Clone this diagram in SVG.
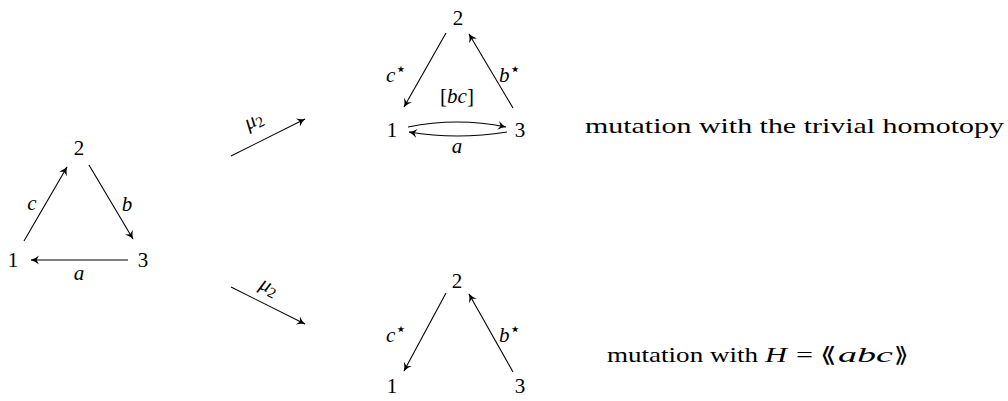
<svg xmlns="http://www.w3.org/2000/svg" width="1008" height="401" viewBox="0 0 1008 401">
<style>
text{font-family:"Liberation Serif","DejaVu Serif",serif;font-size:21px;fill:#000}
.n{text-anchor:middle}
.i{font-style:italic}
.e{fill:none;stroke:#000;stroke-width:1.1}
.sm{font-size:15px}
.st{font-family:"DejaVu Sans",sans-serif;font-size:18px;font-style:normal}
</style>
<defs>
<marker id="ah" viewBox="-9 -5 10 10" refX="0" refY="0" markerWidth="10" markerHeight="10" markerUnits="userSpaceOnUse" orient="auto">
<path d="M0.5,0 Q-4,-1 -8,-4.5 L-5.5,0 L-8,4.5 Q-4,1 0.5,0 Z" fill="#000"/>
</marker>
</defs>
<rect width="1008" height="401" fill="#fff"/>
<g id="connectors">
<line class="e" x1="24" y1="241" x2="67" y2="167" marker-end="url(#ah)"/>
<line class="e" x1="89" y1="165" x2="133" y2="239" marker-end="url(#ah)"/>
<line class="e" x1="128" y1="260" x2="31" y2="260" marker-end="url(#ah)"/>
<line class="e" x1="231" y1="156" x2="305" y2="119" marker-end="url(#ah)"/>
<line class="e" x1="231" y1="287" x2="305" y2="324" marker-end="url(#ah)"/>
<line class="e" x1="446" y1="33" x2="404" y2="107" marker-end="url(#ah)"/>
<line class="e" x1="513" y1="108" x2="469" y2="34" marker-end="url(#ah)"/>
<path class="e" d="M408,127 Q457,117 506,127" marker-end="url(#ah)"/>
<path class="e" d="M507,132 Q457,140 409,132" marker-end="url(#ah)"/>
<line class="e" x1="446" y1="293" x2="404" y2="371" marker-end="url(#ah)"/>
<line class="e" x1="513" y1="372" x2="469" y2="294" marker-end="url(#ah)"/>
</g>
<g id="q1-n2"><text class="n" x="79" y="155">2</text></g>
<g id="q1-n1"><text class="n" x="13" y="267">1</text></g>
<g id="q1-n3"><text class="n" x="143" y="267">3</text></g>
<g id="q1-labels">
<text class="n i" x="32" y="210">c</text>
<text class="n i" x="127" y="211">b</text>
<text class="n i" x="79" y="280">a</text>
</g>
<g id="mu-top" transform="translate(258,125) rotate(-27)"><text class="i" x="-11" y="0">μ<tspan class="sm" font-style="normal" dy="3">2</tspan></text></g>
<g id="mu-bot" transform="translate(268,293) rotate(27)"><text class="i" x="-11" y="0">μ<tspan class="sm" font-style="normal" dy="3">2</tspan></text></g>
<g id="q2-n2"><text class="n" x="458" y="25">2</text></g>
<g id="q2-n1"><text class="n" x="392" y="137">1</text></g>
<g id="q2-n3"><text class="n" x="520" y="137">3</text></g>
<g id="q2-labels">
<text class="i" x="386" y="82">c<tspan class="st" dy="-7">⋆</tspan></text>
<text class="i" x="499" y="82">b<tspan class="st" dy="-7">⋆</tspan></text>
<text class="n" x="457" y="103">[<tspan class="i">bc</tspan>]</text>
<text class="n i" x="457" y="153">a</text>
</g>
<g id="q3-n2"><text class="n" x="457" y="288">2</text></g>
<g id="q3-n1"><text class="n" x="392" y="393">1</text></g>
<g id="q3-n3"><text class="n" x="520" y="393">3</text></g>
<g id="q3-labels">
<text class="i" x="386" y="342">c<tspan class="st" dy="-7">⋆</tspan></text>
<text class="i" x="499" y="342">b<tspan class="st" dy="-7">⋆</tspan></text>
</g>
<g id="caption-top"><text x="585" y="133" textLength="419" lengthAdjust="spacingAndGlyphs">mutation with the trivial homotopy</text></g>
<g id="caption-bot">
<text x="607" y="362" textLength="151" lengthAdjust="spacingAndGlyphs">mutation with</text>
<text class="i" x="765" y="362" textLength="22" lengthAdjust="spacingAndGlyphs">H</text>
<text x="796" y="362" textLength="17" lengthAdjust="spacingAndGlyphs">=</text>
<text x="820" y="362" textLength="17" lengthAdjust="spacingAndGlyphs">⟪</text>
<text class="i" x="838" y="362" textLength="55" lengthAdjust="spacingAndGlyphs">abc</text>
<text x="894" y="362" textLength="15" lengthAdjust="spacingAndGlyphs">⟫</text>
</g>
</svg>
